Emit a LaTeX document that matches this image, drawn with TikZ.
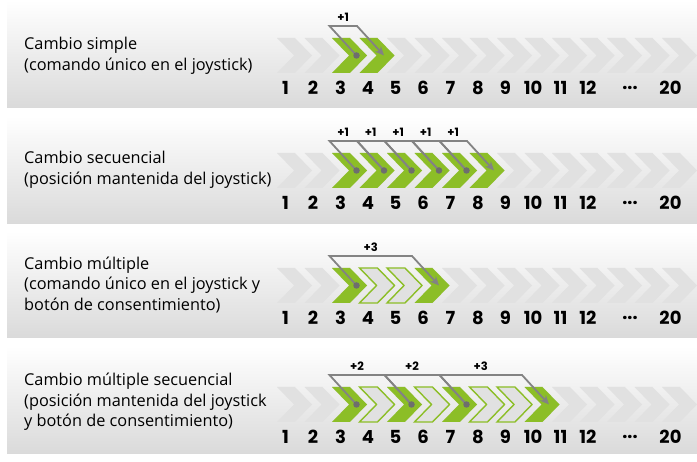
\documentclass[tikz,border=0pt]{standalone}
\usepackage{fontspec}
\setmainfont{Open Sans}
\newfontfamily\numfont{Poppins}
\usetikzlibrary{calc,arrows.meta}
\definecolor{chgreen}{HTML}{8CBE27}
\definecolor{chgrey}{HTML}{E1E1E1}
\definecolor{lnk}{HTML}{838383}
\definecolor{dotc}{HTML}{6E6E6E}
\definecolor{panelbot}{HTML}{DADADA}
\tikzset{
  chevron/.pic={\path[pic actions] (0,0) -- (18,0) -- (35,17.5) -- (18,35) -- (0,35) -- (17,17.5) -- cycle;},
  greychev/.style={fill=chgrey},
  greenchev/.style={fill=chgreen},
  outchev/.style={fill=chgrey, draw=chgreen, line width=1.4pt, line join=miter},
  link/.style={draw=lnk, line width=1.8pt, line join=miter},
  linkarrow/.style={link, -{Stealth[length=9pt,width=8pt]}},
  dotmark/.style={circle, fill=dotc, inner sep=0pt, minimum size=6.5pt},
  numlbl/.style={font=\fontsize{18}{18}\numfont\bfseries, inner sep=0pt},
  steplbl/.style={font=\fontsize{11.5}{11.5}\numfont\bfseries, inner sep=0pt},
  rowtext/.style={font=\fontsize{16.3}{20.5}\selectfont, align=left, anchor=west, inner sep=0pt},
  panel/.style={top color=white, bottom color=panelbot}
}
\begin{document}
\begin{tikzpicture}[x=1pt,y=-1pt]
\useasboundingbox (0,0) rectangle (697,462);
% panels
\shade[panel] (7,0) rectangle (697,108);
\shade[panel] (7,116) rectangle (697,224);
\shade[panel] (7,231) rectangle (697,338);
\shade[panel] (7,346) rectangle (697,454);
% grey chevrons, coordinates, numbers
\foreach \r/\T in {1/38,2/153,3/268,4/387} {
  \foreach \i in {1,...,15} {
    \pgfmathsetmacro\xo{277+(\i-1)*27.5}
    \coordinate (c\r-\i) at (\xo,\T);
    \coordinate (d\r-\i) at (\xo+24.5,\T+17.5);
    \pic[greychev] at (c\r-\i) {chevron};
  }
  \foreach \i in {1,...,12} {
    \node[numlbl] (n\r-\i) at ($(c\r-\i)+(8.5,50)$) {\i};
  }
  \node[numlbl] (n\r-dots) at ($(c\r-13)+(23,50)$) {...};
  \node[numlbl] (n\r-20) at ($(c\r-15)+(8.5,50)$) {20};
}
% row texts
\node[rowtext] (t1) at (24,56) {Cambio simple\\(comando único en el joystick)};
\node[rowtext] (t2) at (24,170) {Cambio secuencial\\(posición mantenida del joystick)};
\node[rowtext] (t3) at (24,285) {Cambio múltiple\\(comando único en el joystick y\\botón de consentimiento)};
\node[rowtext] (t4) at (24,402) {Cambio múltiple secuencial\\(posición mantenida del joystick\\y botón de consentimiento)};
% row 1
\pic[greenchev] at (c1-3) {chevron};
\pic[greenchev] at (c1-4) {chevron};
% row 2
\foreach \i in {3,...,8} {\pic[greenchev] at (c2-\i) {chevron};}
% row 3
\pic[greenchev] at (c3-3) {chevron};
\pic[outchev] at (c3-4) {chevron};
\pic[outchev] at (c3-5) {chevron};
\pic[greenchev] at (c3-6) {chevron};
% row 4
\foreach \i in {3,5,7,10} {\pic[greenchev] at (c4-\i) {chevron};}
\foreach \i in {4,6,8,9} {\pic[outchev] at (c4-\i) {chevron};}
% connectors
\newcommand\stepconn[4]{% style, from, to, label
  \draw[#1] (#2) -- ($(#2)+(-27,-29.5)$) -- ($(#3)+(-27,-29.5)$) -- (#3);
  \node[steplbl] at ($(#2)!0.5!(#3)+(-27,-38)$) {#4};
}
\stepconn{linkarrow}{d1-3}{d1-4}{+1}
\stepconn{link}{d2-3}{d2-4}{+1}
\stepconn{link}{d2-4}{d2-5}{+1}
\stepconn{link}{d2-5}{d2-6}{+1}
\stepconn{link}{d2-6}{d2-7}{+1}
\stepconn{linkarrow}{d2-7}{d2-8}{+1}
\stepconn{linkarrow}{d3-3}{d3-6}{+3}
\stepconn{link}{d4-3}{d4-5}{+2}
\stepconn{link}{d4-5}{d4-7}{+2}
\stepconn{linkarrow}{d4-7}{d4-10}{+3}
% dots
\foreach \p in {d1-3,d2-3,d2-4,d2-5,d2-6,d2-7,d3-3,d4-3,d4-5,d4-7} {
  \node[dotmark] at (\p) {};
}
\end{tikzpicture}
\end{document}
